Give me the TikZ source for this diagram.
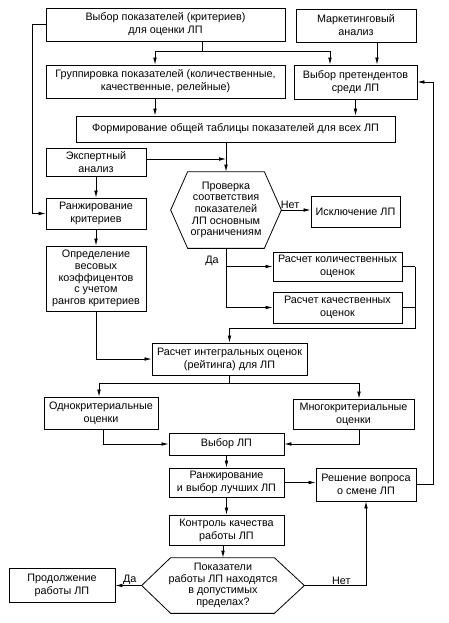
\documentclass[tikz,border=0pt]{standalone}
\usepackage{fontspec}
\setmainfont{Liberation Sans}
\usetikzlibrary{arrows.meta,calc}
\begin{document}
\begin{tikzpicture}[x=1pt,y=-1pt,
  box/.style={draw, line width=0.8pt, inner sep=0pt, align=center,
    font=\fontsize{10.8}{13}\selectfont},
  tight/.style={font=\fontsize{10.8}{11.6}\selectfont},
  hexn/.style={inner sep=0pt, align=center, font=\fontsize{10.8}{11.6}\selectfont},
  hexline/.style={line width=0.8pt},
  arr/.style={-{Latex[length=7pt,width=3.6pt]}},
  lbl/.style={font=\fontsize{10.8}{12}\selectfont, inner sep=1pt},
  every path/.style={line width=0.7pt}]
\useasboundingbox (0,0) rectangle (448,623);

% boxes
\node[box, minimum width=239pt, minimum height=33pt] (b1) at (165.5,24.5) {Выбор показателей (критериев)\\для оценки ЛП};
\node[box, minimum width=120pt, minimum height=33pt] (b2) at (356,25.5) {Маркетинговый\\анализ};
\node[box, minimum width=239pt, minimum height=33pt] (b3) at (165.5,81.5) {Группировка показателей (количественные,\\качественные, релейные)};
\node[box, minimum width=123pt, minimum height=34pt] (b4) at (355.5,82) {Выбор претендентов\\среди ЛП};
\node[box, minimum width=319pt, minimum height=26pt] (b5) at (235.5,129) {Формирование общей таблицы показателей для всех ЛП};
\node[box, minimum width=100pt, minimum height=28pt] (b6) at (96,162) {Экспертный\\анализ};
\node[box, minimum width=100pt, minimum height=31pt] (b7) at (96,213.5) {Ранжирование\\критериев};
\node[box, tight, minimum width=100pt, minimum height=65pt] (b8) at (96,278.5) {Определение\\весовых\\коэффицентов\\с учетом\\рангов критериев};
\node[hexn, minimum width=110pt, minimum height=76pt] (h1) at (226,210) {Проверка\\соответствия\\показателей\\ЛП основным\\ограничениям};
\draw[hexline] (h1.west) -- ([xshift=17pt]h1.north west) -- ([xshift=-17pt]h1.north east) -- (h1.east) -- ([xshift=-17pt]h1.south east) -- ([xshift=17pt]h1.south west) -- cycle;
\node[box, minimum width=89pt, minimum height=31pt] (b9) at (355.5,211.5) {Исключение ЛП};
\node[box, minimum width=129pt, minimum height=29pt] (b10) at (337.5,266.5) {Расчет количественных\\оценок};
\node[box, minimum width=129pt, minimum height=31pt] (b11) at (337.5,307.5) {Расчет качественных\\оценок};
\node[box, minimum width=155pt, minimum height=32pt] (b12) at (229.5,359) {Расчет интегральных оценок\\(рейтинга) для ЛП};
\node[box, minimum width=114pt, minimum height=32pt] (b13) at (101,413) {Однокритериальные\\оценки};
\node[box, minimum width=121pt, minimum height=30pt] (b14) at (353.5,414) {Многокритериальные\\оценки};
\node[box, minimum width=115pt, minimum height=22pt] (b15) at (226.5,444) {Выбор ЛП};
\node[box, minimum width=115pt, minimum height=29pt] (b16) at (226.5,482.5) {Ранжирование\\и выбор лучших ЛП};
\node[box, minimum width=100pt, minimum height=33pt] (b17) at (366,484.5) {Решение вопроса\\о смене ЛП};
\node[box, minimum width=115pt, minimum height=30pt] (b18) at (226.5,530) {Контроль качества\\работы ЛП};
\node[hexn, minimum width=162pt, minimum height=55pt] (h2) at (223,585.5) {Показатели\\работы ЛП находятся\\в допустимых\\пределах?};
\draw[hexline] (h2.west) -- ([xshift=29pt]h2.north west) -- ([xshift=-30pt]h2.north east) -- (h2.east) -- ([xshift=-30pt]h2.south east) -- ([xshift=29pt]h2.south west) -- cycle;
\node[box, minimum width=106pt, minimum height=34pt] (b19) at (62,585) {Продолжение\\работы ЛП};

% connectors
\coordinate (j1) at (202,51);
\coordinate (jL) at (155,51);
\coordinate (jR) at (330,51);
\draw (j1 |- b1.south) -- (j1);
\draw (jL) -- (jR);
\draw[arr] (jL) -- (jL |- b3.north);
\draw[arr] (jR) -- (jR |- b4.north);
\draw[arr] ([xshift=21pt]b2.south) -- ([xshift=21pt]b2.south |- b4.north);
\draw[arr] (jL |- b3.south) -- (jL |- b5.north);
\draw[arr] (b4.south) -- (b4.south |- b5.north);

\coordinate (L) at (32,0);
\draw[arr] (b1.west) -- (b1.west -| L) -- (b7.west -| L) -- (b7.west);

\draw[arr] (b5.south -| h1.north) -- (h1.north);
\draw[arr] ([yshift=3pt]b6.east) -- ([yshift=3pt]b6.east -| h1.north);
\draw[arr] (b6.south) -- (b7.north);
\draw[arr] (b7.south) -- (b8.north);

\draw[arr] (h1.east) -- (b9.west |- h1.east) node[lbl, above, pos=0.3] {Нет};
\draw (h1.south) -- (h1.south |- b11.west);
\draw[arr] (h1.south |- b10.west) -- (b10.west);
\draw[arr] (h1.south |- b11.west) -- (b11.west);
\node[lbl] (da1) at (212,261) {Да};

\coordinate (R1) at (415,328);
\draw (b10.east) -- (b10.east -| R1);
\draw (b11.east) -- (b11.east -| R1);
\draw (b10.east -| R1) -- (R1) -- (R1 -| b12.north);
\draw[arr] (R1 -| b12.north) -- (b12.north);

\draw[arr] (b8.south) |- (b12.west);

\coordinate (sL) at (99,383);
\coordinate (sR) at (359,383);
\draw (b12.south) -- (b12.south |- sL);
\draw (sL) -- (sR);
\draw[arr] (sL) -- (sL |- b13.north);
\draw[arr] (sR) -- (sR |- b14.north);
\draw[arr] ([xshift=2pt]b13.south) |- (b15.west);
\draw[arr] (sR |- b14.south) |- (b15.east);
\draw[arr] (b15.south) -- (b16.north);
\draw[arr] (b16.east) -- (b17.west |- b16.east);
\draw[arr] (b16.south) -- (b18.north);
\draw[arr] (b18.south -| h2.north) -- (h2.north);

\draw[arr] (h2.west) -- (b19.east |- h2.west) node[lbl, above, pos=0.45] {Да};
\draw[arr] (h2.east) -| (b17.south) node[lbl, above, pos=0.3] {Нет};

\coordinate (R2) at (433,0);
\draw[arr] (b17.east) -- (b17.east -| R2) -- (b4.east -| R2) -- (b4.east);
\end{tikzpicture}
\end{document}
